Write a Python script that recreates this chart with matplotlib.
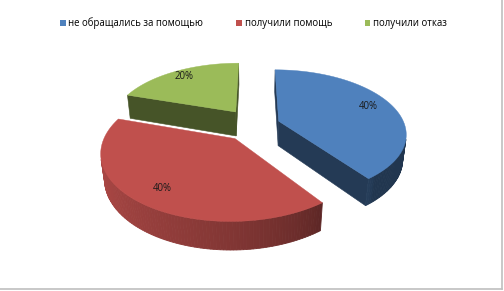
import numpy as np
import matplotlib.pyplot as plt
from matplotlib.patches import Polygon, Patch
from matplotlib.lines import Line2D

# Data
labels = ['не обращались за помощью', 'получили помощь', 'получили отказ']
shares = [40, 40, 20]
pct_text = ['40%', '40%', '20%']

# Style
colors = ['#4F81BD', '#C0504D', '#9BBB59']
explode = [0.2, 0.26, 0.27]
label_r = [0.8, 0.8, 0.85]

# 3D pie projection (pixel coordinates)
CX, CY = 255, 125
S = 126
ALPHA = np.radians(29.5)
D = 4.76
H = 0.23
CAM = np.array([0.0, -D * np.cos(ALPHA), D * np.sin(ALPHA)])


def proj(u, v, z):
    u, v, z = np.broadcast_arrays(np.asarray(u, float), np.asarray(v, float), np.asarray(z, float))
    up = v * np.sin(ALPHA) + z * np.cos(ALPHA)
    dist = D + v * np.cos(ALPHA) - z * np.sin(ALPHA)
    s = D / dist
    return np.column_stack([CX + S * u * s, CY - S * up * s])


def shade(c, f):
    rgb = np.array(plt.matplotlib.colors.to_rgb(c))
    return tuple(np.clip(rgb * f, 0, 1))


def wall_factor(t):
    t = t % 360
    return 0.42 + 0.52 * np.clip((310 - t) / 130, 0, 1) ** 0.6


def facing(n, p):
    return np.dot(n, CAM - np.asarray(p)) > 0


fig = plt.figure(figsize=(5.04, 2.91), dpi=100)
ax = fig.add_axes([0, 0, 1, 1])
ax.set_xlim(0, 504)
ax.set_ylim(291, 0)
ax.axis('off')

total = sum(shares)
cum = np.cumsum([0] + shares)
slices = []
for i in range(len(shares)):
    th_e = 90 - 360 * cum[i] / total
    th_s = 90 - 360 * cum[i + 1] / total
    mid = np.radians((th_s + th_e) / 2)
    ox, oy = explode[i] * np.cos(mid), explode[i] * np.sin(mid)
    slices.append((i, th_s, th_e, mid, ox, oy))

# draw back slices first
for i, th_s, th_e, mid, ox, oy in sorted(slices, key=lambda s: -s[5]):
    col = colors[i]
    ts = np.radians(np.linspace(th_s, th_e, 120))
    # cut faces
    for th, start in [(np.radians(th_s), True), (np.radians(th_e), False)]:
        if start:
            n = np.array([np.sin(th), -np.cos(th), 0])
        else:
            n = np.array([-np.sin(th), np.cos(th), 0])
        if facing(n, (ox, oy, 0)):
            pu = [ox, ox + np.cos(th), ox + np.cos(th), ox]
            pv = [oy, oy + np.sin(th), oy + np.sin(th), oy]
            pz = [0, 0, -H, -H]
            ax.add_patch(Polygon(proj(pu, pv, pz), closed=True,
                                 facecolor=shade(col, 0.45), edgecolor=shade(col, 0.45), lw=0.4))
    # outer wall
    for a, b in zip(ts[:-1], ts[1:]):
        tm = (a + b) / 2
        n = np.array([np.cos(tm), np.sin(tm), 0])
        if not facing(n, (ox + np.cos(tm), oy + np.sin(tm), 0)):
            continue
        pu = [ox + np.cos(a), ox + np.cos(b), ox + np.cos(b), ox + np.cos(a)]
        pv = [oy + np.sin(a), oy + np.sin(b), oy + np.sin(b), oy + np.sin(a)]
        pz = [0, 0, -H, -H]
        c = shade(col, wall_factor(np.degrees(tm)))
        ax.add_patch(Polygon(proj(pu, pv, pz), closed=True, facecolor=c, edgecolor=c, lw=0.6))
    # top face
    pu = np.concatenate([[ox], ox + np.cos(ts)])
    pv = np.concatenate([[oy], oy + np.sin(ts)])
    ax.add_patch(Polygon(proj(pu, pv, 0), closed=True, facecolor=col, edgecolor=col, lw=0.3))
    lx, ly = proj(ox + label_r[i] * np.cos(mid), oy + label_r[i] * np.sin(mid), 0)[0]
    ax.text(lx, ly, pct_text[i], ha='center', va='center', fontsize=6.9,
            family='Open Sans', color='#1a1a1a')

handles = [Patch(facecolor=c, edgecolor='none') for c in colors]
ax.legend(handles, labels, loc='center', bbox_to_anchor=(253.5 / 504, 1 - 23.5 / 291), ncol=3,
          frameon=False, handlelength=0.6, handleheight=0.6, handletextpad=0.3,
          columnspacing=3.4, prop={'family': 'Open Sans', 'size': 6.9})

# chart border (right and bottom shadow)
fig.add_artist(Line2D([501.5 / 504, 501.5 / 504], [1, 2 / 291], transform=fig.transFigure,
                      color='#BFBFBF', lw=1.2))
fig.add_artist(Line2D([0, 502 / 504], [2 / 291, 2 / 291], transform=fig.transFigure,
                      color='#BFBFBF', lw=1.2))

fig.savefig('out.png', dpi=100, facecolor='white')
